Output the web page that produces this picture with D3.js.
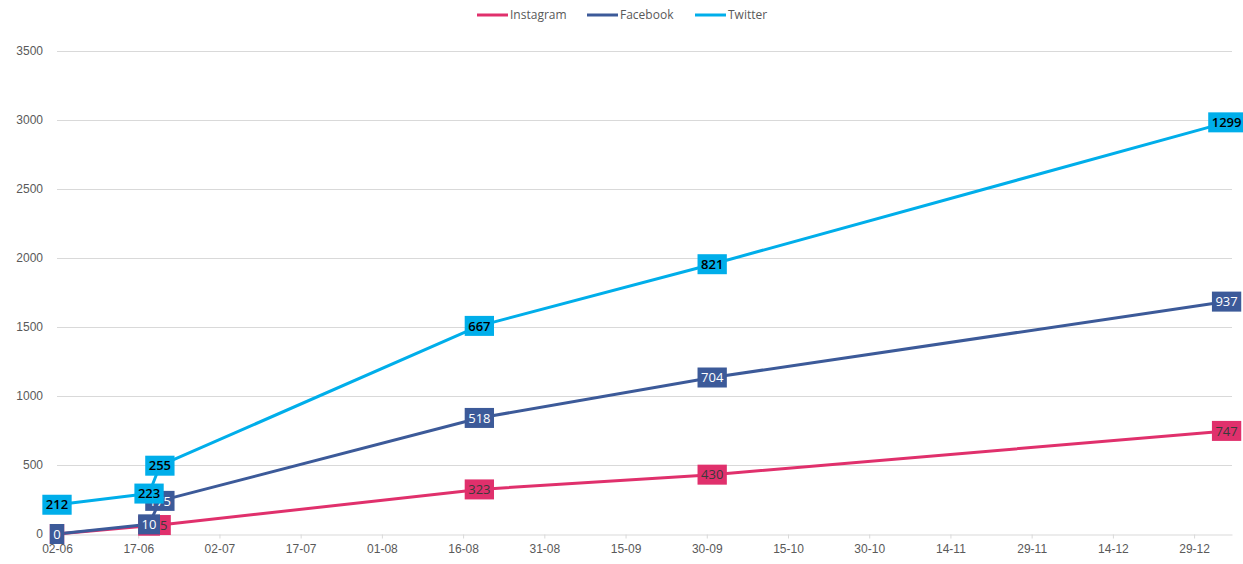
<!DOCTYPE html>
<html>
<head>
<meta charset="utf-8">
<script src="https://cdn.jsdelivr.net/npm/d3@7"></script>
<style>
	body { margin: 0; background: #fff; }
	svg { display: block; font-family: "Open Sans", "Liberation Sans", sans-serif; }
</style>
</head>
<body>
<svg width="1243" height="564"></svg>
<script>
const dates = ["2019-06-02", "2019-06-19", "2019-06-21", "2019-08-19", "2019-10-01", "2020-01-04"];
const instagram = [0, 60, 65, 323, 430, 747];
const facebook = [0, 10, 175, 518, 704, 937];
const twitter = [212, 223, 255, 667, 821, 1299];
const seriesNames = ["Instagram", "Facebook", "Twitter"];
const colors = ["#e0306c", "#3c5a99", "#00aeea"];
const labelText = ["#3a3a3a", "#ffffff", "#000000"];
const yTicks = [0, 500, 1000, 1500, 2000, 2500, 3000, 3500];

const svg = d3.select("svg");
const width = 1243;
const margin = { top: 51, right: 11, bottom: 30, left: 57 };
const parse = d3.timeParse("%Y-%m-%d");

const rows = dates.map((d, i) => ({
	date: parse(d),
	Instagram: instagram[i],
	Facebook: facebook[i],
	Twitter: twitter[i]
}));
const stacked = d3.stack().keys(seriesNames)(rows);

const start = parse("2019-06-02");
const xScale = d3
	.scaleTime()
	.domain([start, d3.timeDay.offset(start, 217)])
	.range([margin.left, width - margin.right]);
const yScale = d3.scaleLinear().domain([0, 3500]).range([534, margin.top]);

// gridlines
svg.append("g")
	.selectAll("line")
	.data(yTicks.slice(1))
	.join("line")
	.attr("x1", margin.left)
	.attr("x2", width - margin.right)
	.attr("y1", (d) => yScale(d) + 0.5)
	.attr("y2", (d) => yScale(d) + 0.5)
	.attr("stroke", "#d9d9d9");

// y axis labels
const yAxis = svg
	.append("g")
	.attr("transform", `translate(${margin.left}, 0)`)
	.call(d3.axisLeft(yScale).tickValues(yTicks).tickSize(0).tickPadding(14).tickFormat(d3.format("d")));
yAxis.select(".domain").remove();
yAxis.selectAll("text").attr("fill", "#595959").style("font-size", "12px");

// x axis
const xTicks = d3.range(0, 211, 15).map((d) => d3.timeDay.offset(start, d));
const xAxis = svg
	.append("g")
	.attr("transform", `translate(0, ${yScale(0) + 0.5})`)
	.call(d3.axisBottom(xScale).tickValues(xTicks).tickSize(4).tickSizeOuter(0).tickPadding(6).tickFormat(d3.timeFormat("%d-%m")));
xAxis.select(".domain").attr("stroke", "#d9d9d9");
xAxis.selectAll(".tick line").attr("stroke", "#d9d9d9");
xAxis.selectAll("text").attr("fill", "#595959").style("font-size", "12px");

// lines
const line = d3
	.line()
	.x((d) => xScale(d.data.date))
	.y((d) => yScale(d[1]));

svg.append("g")
	.selectAll("path")
	.data(stacked)
	.join("path")
	.attr("d", line)
	.attr("fill", "none")
	.attr("stroke", (d, i) => colors[i])
	.attr("stroke-width", 3)
	.attr("stroke-linejoin", "round");

// data labels (they overlap near 17-06, as in the original)
stacked.forEach((s, si) => {
	const g = svg.append("g");
	s.forEach((d) => {
		const val = d[1] - d[0];
		const lg = g.append("g").attr("transform", `translate(${xScale(d.data.date)}, ${yScale(d[1])})`);
		const rect = lg.append("rect").attr("fill", colors[si]);
		const txt = lg
			.append("text")
			.attr("text-anchor", "middle")
			.attr("dy", "0.36em")
			.attr("fill", labelText[si])
			.style("font-size", "13px")
			.style("font-weight", si === 2 ? "600" : "400")
			.text(val);
		const w = txt.node().getComputedTextLength() + 7;
		rect.attr("x", -w / 2).attr("y", -10).attr("width", w).attr("height", 20);
	});
});

// legend
const legendX = [477, 587, 695];
const legend = svg
	.append("g")
	.selectAll("g")
	.data(seriesNames)
	.join("g")
	.attr("transform", (d, i) => `translate(${legendX[i]}, 15)`);
legend
	.append("line")
	.attr("x1", 0)
	.attr("x2", 31)
	.attr("stroke", (d, i) => colors[i])
	.attr("stroke-width", 3);
legend
	.append("text")
	.attr("x", 33)
	.attr("dy", "0.35em")
	.attr("fill", "#595959")
	.style("font-size", "12px")
	.text((d) => d);
</script>
</body>
</html>
